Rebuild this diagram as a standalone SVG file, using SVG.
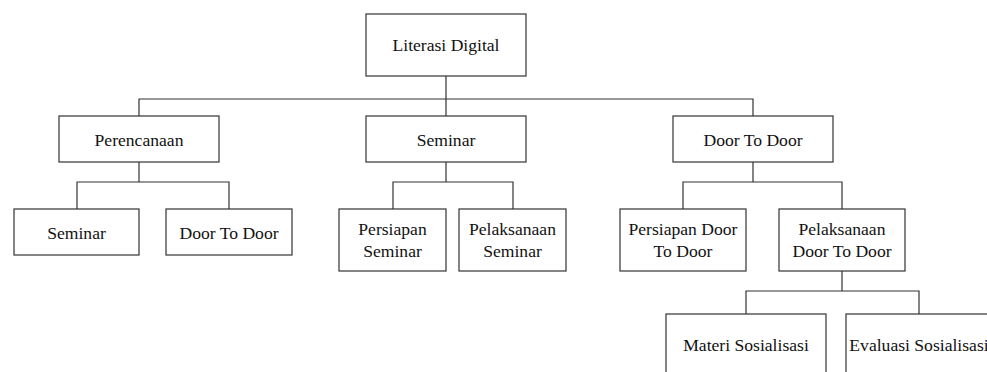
<svg xmlns="http://www.w3.org/2000/svg" width="987" height="372" viewBox="0 0 987 372">
<style>
.box{fill:#fff;stroke:#333;stroke-width:1.2}
.lbl{font-family:"Liberation Serif","Times New Roman",serif;font-size:17.6px;fill:#111;text-anchor:middle}
.con{fill:none;stroke:#333;stroke-width:1.2}
</style>
<rect width="987" height="372" fill="#fff"/>
<g id="connectors">
<path class="con" d="M446 76V116M139 116V99H753V116"/>
<path class="con" d="M139 162V182M77 209V182H229V209"/>
<path class="con" d="M446 162V182M393 209V182H513V209"/>
<path class="con" d="M753 162V182M683 209V182H842V209"/>
<path class="con" d="M842 271V291M746 314V291H919V314"/>
</g>
<g id="n-root"><rect class="box" x="366" y="14" width="160" height="62"/><text class="lbl" x="446" y="51">Literasi Digital</text></g>
<g id="n-perencanaan"><rect class="box" x="59" y="116" width="160" height="46"/><text class="lbl" x="139" y="145.5">Perencanaan</text></g>
<g id="n-seminar"><rect class="box" x="366" y="116" width="160" height="46"/><text class="lbl" x="446" y="145.5">Seminar</text></g>
<g id="n-door"><rect class="box" x="673" y="116" width="160" height="46"/><text class="lbl" x="753" y="145.5">Door To Door</text></g>
<g id="n-p-seminar"><rect class="box" x="14" y="209" width="125" height="46"/><text class="lbl" x="76.5" y="238.5">Seminar</text></g>
<g id="n-p-door"><rect class="box" x="166" y="209" width="126" height="46"/><text class="lbl" x="229" y="238.5">Door To Door</text></g>
<g id="n-persiapan-seminar"><rect class="box" x="339" y="209" width="107" height="62"/><text class="lbl" x="392.5" y="235">Persiapan</text><text class="lbl" x="392.5" y="256.5">Seminar</text></g>
<g id="n-pelaksanaan-seminar"><rect class="box" x="459" y="209" width="107" height="62"/><text class="lbl" x="512.5" y="235">Pelaksanaan</text><text class="lbl" x="512.5" y="256.5">Seminar</text></g>
<g id="n-persiapan-door"><rect class="box" x="620" y="209" width="126" height="62"/><text class="lbl" x="683" y="235">Persiapan Door</text><text class="lbl" x="683" y="256.5">To Door</text></g>
<g id="n-pelaksanaan-door"><rect class="box" x="779" y="209" width="126" height="62"/><text class="lbl" x="842" y="235">Pelaksanaan</text><text class="lbl" x="842" y="256.5">Door To Door</text></g>
<g id="n-materi"><rect class="box" x="666" y="314" width="160" height="70"/><text class="lbl" x="746" y="351">Materi Sosialisasi</text></g>
<g id="n-evaluasi"><rect class="box" x="846" y="314" width="146" height="70"/><text class="lbl" x="919" y="351">Evaluasi Sosialisasi</text></g>
</svg>
